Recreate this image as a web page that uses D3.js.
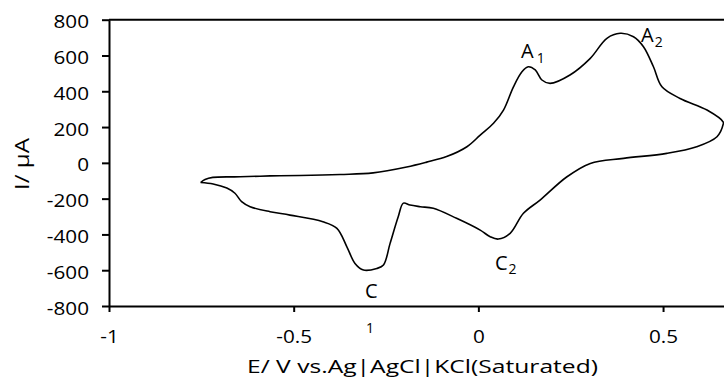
<!DOCTYPE html>
<html>
<head>
<meta charset="utf-8">
<script src="https://cdn.jsdelivr.net/npm/d3@7"></script>
<style>
  body { margin: 0; background: #fff; }
  svg { display: block; font-family: "Open Sans", sans-serif; }
</style>
</head>
<body>
<svg width="724" height="384"></svg>
<script>
// forward (anodic) sweep: left tip -> right tip, upper branch
var forwardE = [-0.752, -0.740, -0.719, -0.645, -0.564, -0.483, -0.374, -0.285, -0.194, -0.140, -0.086, -0.031,
  0.005, 0.041, 0.068, 0.095, 0.118, 0.135, 0.154, 0.172, 0.194, 0.248, 0.303, 0.348, 0.384, 0.420,
  0.447, 0.474, 0.497, 0.546, 0.619, 0.663];
var forwardI = [-110, -93, -81, -78, -73, -71, -65, -56, -23, 4, 35, 90,
  155, 221, 295, 425, 509, 537, 519, 463, 444, 491, 584, 696, 724, 705,
  649, 537, 425, 360, 295, 228];
// reverse (cathodic) sweep: right tip -> left tip, lower branch
var reverseE = [0.663, 0.646, 0.591, 0.510, 0.393, 0.303, 0.239, 0.167, 0.122, 0.086, 0.054, 0.032, 0.005,
  -0.059, -0.122, -0.157, -0.185, -0.203, -0.217, -0.239, -0.257, -0.275, -0.311, -0.334, -0.356,
  -0.383, -0.421, -0.510, -0.564, -0.618, -0.641, -0.659, -0.681, -0.718, -0.752];
var reverseI = [217, 146, 90, 53, 25, -3, -79, -208, -282, -394, -426, -413, -376,
  -310, -254, -245, -236, -225, -301, -450, -571, -590, -599, -562, -469,
  -366, -329, -292, -273, -245, -217, -170, -141, -118, -110];

var xTicks = [-1, -0.5, 0, 0.5];
var yTicks = [-800, -600, -400, -200, 0, 200, 400, 600, 800];

var svg = d3.select("svg");
var x = d3.scaleLinear().domain([-1, 0.665]).range([109, 724]);
var y = d3.scaleLinear().domain([-800, 800]).range([306, 19.7]);

// top border of plot area
svg.append("line")
  .attr("x1", x(-1)).attr("x2", x(0.665))
  .attr("y1", y(800)).attr("y2", y(800))
  .attr("stroke", "#000").attr("stroke-width", 2);

var xAxis = d3.axisBottom(x).tickValues(xTicks).tickSize(6).tickSizeOuter(0)
  .tickFormat(function (d) { return String(d); });
var gx = svg.append("g")
  .attr("transform", "translate(0," + y(-800) + ")")
  .call(xAxis);
gx.selectAll("text").attr("y", 37).attr("dy", 0);

var yAxis = d3.axisLeft(y).tickValues(yTicks).tickSize(7).tickSizeOuter(0)
  .tickFormat(function (d) { return String(d); });
var gy = svg.append("g")
  .attr("transform", "translate(" + x(-1) + ",0)")
  .call(yAxis);
gy.selectAll("text").attr("x", -20 / 1.15).attr("dy", 0).attr("y", 8);

svg.selectAll(".domain, .tick line").attr("stroke", "#000").attr("stroke-width", 2);
svg.selectAll(".tick text")
  .attr("font-family", "Open Sans").attr("font-size", 18).attr("fill", "#000")
  .attr("transform", "scale(1.15,1)");

// the cyclic voltammogram
var pts = forwardE.map(function (e, i) { return [e, forwardI[i]]; })
  .concat(reverseE.map(function (e, i) { return [e, reverseI[i]]; }));
var line = d3.line()
  .x(function (d) { return x(d[0]); })
  .y(function (d) { return y(d[1]); })
  .curve(d3.curveCatmullRom.alpha(0.5));
svg.append("path")
  .attr("d", line(pts))
  .attr("fill", "none")
  .attr("stroke", "#000")
  .attr("stroke-width", 1.6);

// peak labels
function peak(txt, sub, px, py, dx, dy) {
  var t = svg.append("text").attr("x", px).attr("y", py)
    .attr("font-size", 20).attr("fill", "#000").text(txt);
  if (sub) t.append("tspan").attr("font-size", 14).attr("dx", dx).attr("dy", dy).text(sub);
}
peak("A", "1", 521, 58, 3, 5);
peak("A", "2", 641, 41.7, 1, 5);
peak("C", "2", 495, 270, 1, 4);
peak("C", null, 365, 298);
svg.append("text").attr("x", 366).attr("y", 333)
  .attr("font-size", 14).attr("fill", "#000").text("1");

// axis titles
svg.append("text")
  .attr("transform", "translate(29,164) rotate(-90)")
  .attr("text-anchor", "middle")
  .attr("font-size", 20).attr("fill", "#000")
  .attr("textLength", 52).attr("lengthAdjust", "spacingAndGlyphs")
  .text("I/ µA");
svg.append("text")
  .attr("x", 247).attr("y", 373)
  .attr("font-size", 19).attr("fill", "#000")
  .attr("textLength", 351).attr("lengthAdjust", "spacingAndGlyphs")
  .text("E/ V vs.Ag|AgCl|KCl(Saturated)");
</script>
</body>
</html>
